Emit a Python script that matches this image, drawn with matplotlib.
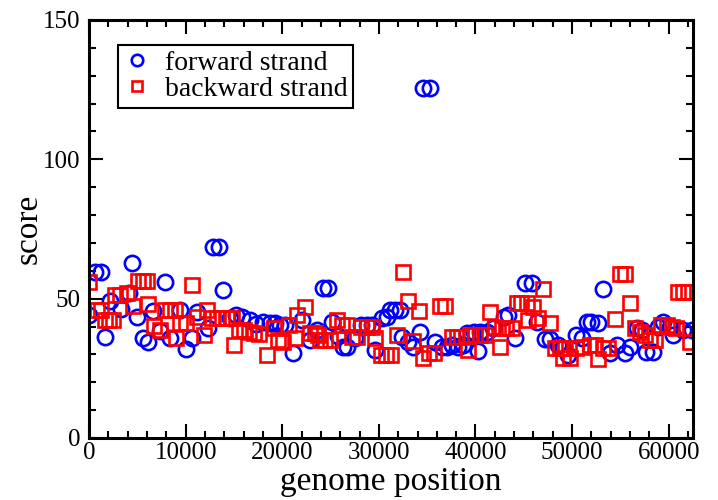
import numpy as np
import matplotlib
matplotlib.use('Agg')
import matplotlib.pyplot as plt
from matplotlib.ticker import MultipleLocator

# forward strand (blue circles)
fwd_pos = [0, 650, 1200, 1700, 2150, 3350, 4100, 4450, 5000, 5550,
           6150, 6600, 7300, 7850, 8350, 9450, 10000, 10650, 11150, 12350,
           12850, 13450, 13900, 14600, 15200, 15850, 16650, 17300, 18050, 18750,
           19250, 19750, 20300, 21150, 22000, 22900, 23550, 24250, 24750, 25100,
           25750, 26300, 26700, 27550, 28200, 28750, 29250, 29600, 30300, 30800,
           31150, 31650, 32200, 32350, 33050, 33550, 34250, 34550, 35300, 35800,
           36500, 37000, 37550, 38200, 38750, 39100, 39800, 40300, 40450, 41150,
           41850, 42900, 43400, 44100, 45150, 45800, 46350, 47200, 47700, 48550,
           49100, 49600, 50450, 51000, 51500, 52000, 52700, 53200, 53900, 54600,
           55450, 56000, 56700, 57200, 57700, 58350, 58900, 59450, 60100, 60450,
           61500, 62400]
fwd_score = [44, 59.5, 59.5, 36.3, 49.3, 46.3, 52, 62.7, 43.5, 35.8,
             34.6, 45.6, 38.3, 55.9, 36, 46, 32, 35.8, 45.3, 39.4,
             68.6, 68.6, 53.1, 43, 44, 43.6, 42.3, 41, 41.6, 41.2,
             41.2, 40.5, 40.5, 30.4, 42.3, 35.2, 38.8, 53.7, 53.7, 41.7,
             36.6, 32.8, 32.8, 35.9, 40.5, 40.5, 40.5, 31.6, 43, 43.5,
             46, 46, 46, 36.3, 34.6, 32.8, 38.1, 125.5, 125.5, 34.6,
             32.8, 32.8, 33.4, 32.8, 33.4, 37.6, 38.1, 31.3, 38.1, 38.1,
             39.4, 43.5, 44.1, 35.8, 55.5, 55.5, 41.7, 35.4, 35.4, 33.4,
             32.2, 29.8, 37, 35.8, 41.7, 41.7, 41.2, 53.4, 30.4, 33.4,
             30.4, 32.8, 39.4, 38.8, 31, 31, 40, 41.7, 40, 37,
             38.8, 38.8]

# backward strand (red squares)
bwd_pos = [0, 800, 1200, 1650, 2100, 2500, 2700, 3200, 3900, 4500,
           5100, 5600, 5950, 6150, 6750, 7350, 7850, 8400, 8900, 8950,
           9400, 10050, 10650, 11150, 11850, 12200, 12700, 13200, 13750, 14250,
           14750, 15000, 15500, 16050, 16550, 17100, 17600, 18400, 19100, 19600,
           20100, 20650, 21300, 21500, 22350, 22900, 23400, 23750, 23900, 24400,
           24950, 25650, 26150, 26650, 27200, 27700, 28200, 28750, 29250, 29600,
           30200, 30750, 31250, 31850, 32450, 33050, 33550, 34200, 34600, 35200,
           35700, 36300, 36850, 37550, 38050, 38550, 39200, 39450, 39950, 40450,
           41000, 41500, 42000, 42550, 42700, 43200, 43750, 44250, 44750, 45300,
           45450, 45950, 46500, 47000, 47700, 48250, 48750, 49100, 49250, 49800,
           50450, 51150, 51850, 52350, 52700, 53200, 53750, 54450, 54950, 55450,
           56000, 56500, 57000, 57550, 58050, 58600, 59250, 59800, 60300, 60800,
           61000, 61500, 62000, 62200]
bwd_score = [56, 46, 46, 42.3, 42.3, 42.3, 51.3, 51.3, 52.1, 47.4,
             56.4, 56.4, 56.4, 48.1, 40.2, 38.8, 46, 46, 46, 35.8,
             41.2, 41.2, 54.9, 43.5, 37, 46, 43, 43, 43, 43,
             43, 33.4, 38.8, 38.8, 38, 37.7, 37.3, 29.8, 39.4, 35.2,
             34.6, 40.5, 35.9, 44.1, 47.1, 37.6, 37.6, 37, 35.2, 35.2,
             35.2, 42.3, 40.5, 40.5, 36.3, 36.3, 40, 40, 40, 35.9,
             29.8, 29.8, 29.8, 37, 59.5, 49.3, 34.9, 45.7, 28.6, 30.6,
             30.6, 47.5, 47.5, 36.3, 36.3, 36.3, 31.6, 37, 37, 37,
             37, 45.3, 40, 32.8, 39.4, 39.4, 39.4, 48.5, 48.5, 48.5,
             42.3, 47.1, 43, 53.4, 41.4, 32.2, 32.2, 28.6, 32.2, 28.6,
             32.2, 32.8, 33.4, 33.4, 28.2, 32.2, 32.2, 42.6, 58.8, 58.8,
             48.5, 39.4, 38.1, 37, 35.2, 35.2, 40.5, 40.5, 40, 39.4,
             52.5, 52.5, 52.5, 34.6]

plt.rcParams['font.family'] = ['Liberation Serif', 'DejaVu Serif']

fig = plt.figure(figsize=(7.18, 5.0), dpi=100)
ax = fig.add_axes([0.124, 0.124, 0.841, 0.836])

ax.plot(fwd_pos, fwd_score, linestyle='none', marker='o', ms=11,
        mfc='none', mec='#0000ff', mew=1.9, label='forward strand')
ax.plot(bwd_pos, bwd_score, linestyle='none', marker='s', ms=9.5,
        mfc='none', mec='#ff0000', mew=1.9, label='backward strand')

ax.set_xlim(0, 62500)
ax.set_ylim(0, 150)
ax.xaxis.set_major_locator(MultipleLocator(10000))
ax.xaxis.set_minor_locator(MultipleLocator(2000))
ax.yaxis.set_major_locator(MultipleLocator(50))
ax.yaxis.set_minor_locator(MultipleLocator(10))
ax.tick_params(which='both', direction='in', top=True, right=True, width=1.5)
ax.tick_params(which='major', length=10, labelsize=18)
ax.tick_params(which='minor', length=5)
ax.tick_params(axis='x', which='major', pad=3)
ax.tick_params(axis='y', which='major', pad=6)
for s in ax.spines.values():
    s.set_linewidth(2.2)

ax.set_xlabel('genome position', fontsize=24, labelpad=2)
ax.set_ylabel('score', fontsize=24, labelpad=0)

leg = ax.legend(loc='upper left', bbox_to_anchor=(0.048, 0.94), borderaxespad=0,
                fontsize=20, markerscale=0.75, fancybox=False, framealpha=1,
                edgecolor='black', handlelength=1.0, handletextpad=0.5,
                borderpad=0.2, labelspacing=0.02)
leg.get_frame().set_linewidth(1.5)

fig.savefig('out.png', dpi=100)
